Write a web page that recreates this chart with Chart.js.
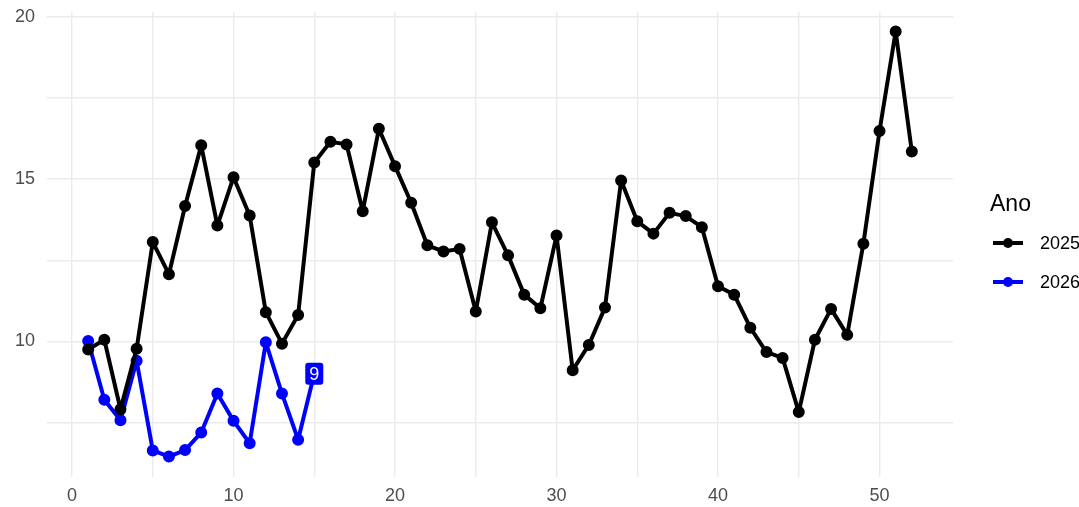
<!DOCTYPE html>
<html>
<head>
<meta charset="utf-8">
<script src="https://cdn.jsdelivr.net/npm/chart.js@4"></script>
<style>
  body { margin: 0; background: #fff; font-family: "Liberation Sans", Arial, sans-serif; }
  #wrap { position: relative; width: 1079px; height: 507px; overflow: hidden; }
  #legend { position: absolute; left: 0; top: 0; color: #000; }
  #legend .title { position: absolute; left: 990px; top: 189px; font-size: 23px; line-height: 28px; white-space: nowrap; }
  #legend .key { position: absolute; left: 993px; width: 30px; height: 4px; margin-top: -2px; }
  #legend .dot { position: absolute; left: 1003px; width: 10px; height: 10px; margin-top: -5px; border-radius: 50%; }
  #legend .lab { position: absolute; left: 1040px; font-size: 18px; line-height: 22px; margin-top: -11px; white-space: nowrap; }
</style>
</head>
<body>
<div id="wrap">
  <canvas id="chart" width="1079" height="507"></canvas>
  <div id="legend">
    <div class="title">Ano</div>
    <div class="key" style="top:243px;background:#000"></div><div class="dot" style="top:243px;background:#000"></div><div class="lab" style="top:243px">2025</div>
    <div class="key" style="top:282px;background:#0000ff"></div><div class="dot" style="top:282px;background:#0000ff"></div><div class="lab" style="top:282px">2026</div>
  </div>
</div>
<script>
var weeks2025 = [];
for (var w = 1; w <= 52; w++) weeks2025.push(w);
var values2025 = [9.75, 10.05, 7.91, 9.77, 13.06, 12.07, 14.17, 16.04, 13.57, 15.06,
                  13.88, 10.9, 9.93, 10.81, 15.51, 16.15, 16.07, 14.01, 16.55, 15.4,
                  14.27, 12.96, 12.77, 12.85, 10.92, 13.67, 12.65, 11.44, 11.02, 13.26,
                  9.11, 9.89, 11.04, 14.96, 13.7, 13.32, 13.96, 13.86, 13.52, 11.7,
                  11.44, 10.42, 9.67, 9.49, 7.82, 10.05, 11.0, 10.2, 13.01, 16.48,
                  19.55, 15.85];
var weeks2026 = [1, 2, 3, 4, 5, 6, 7, 8, 9, 10, 11, 12, 13, 14, 15];
var values2026 = [10.01, 8.2, 7.57, 9.4, 6.64, 6.45, 6.65, 7.19, 8.39, 7.55,
                  6.86, 9.97, 8.39, 6.97, 9.0];
var lastLabel = "9";

var xTicks = [0, 5, 10, 15, 20, 25, 30, 35, 40, 45, 50];
var yTicks = [7.5, 10, 12.5, 15, 17.5, 20];
var xLabels = [0, 10, 20, 30, 40, 50];
var yLabels = [10, 15, 20];

function toPoints(xs, ys) {
    return xs.map(function(x, i) { return { x: x, y: ys[i] }; });
}

// rotulo do ultimo ponto de 2026
var lastLabelPlugin = {
    id: 'lastLabel',
    afterDatasetsDraw: function(chart) {
        var ctx = chart.ctx;
        var xs = chart.scales.x, ys = chart.scales.y;
        var i = values2026.length - 1;
        var px = xs.getPixelForValue(weeks2026[i]);
        var py = ys.getPixelForValue(values2026[i]);
        ctx.save();
        ctx.font = '18px "Liberation Sans", Arial, sans-serif';
        var tw = ctx.measureText(lastLabel).width;
        var w = tw + 8, h = 22;
        ctx.fillStyle = '#0000ff';
        ctx.beginPath();
        ctx.roundRect(px - w / 2, py - h / 2, w, h, 3);
        ctx.fill();
        ctx.fillStyle = '#fff';
        ctx.textAlign = 'center';
        ctx.textBaseline = 'middle';
        ctx.fillText(lastLabel, px, py + 1);
        ctx.restore();
    }
};

var tickFont = { family: '"Liberation Sans", Arial, sans-serif', size: 18 };

new Chart(document.getElementById('chart'), {
    type: 'line',
    data: {
        datasets: [
            {
                label: '2025',
                data: toPoints(weeks2025, values2025),
                borderColor: '#000',
                backgroundColor: '#000',
                borderWidth: 4,
                borderJoinStyle: 'round',
                pointRadius: 4,
                pointHoverRadius: 4,
                tension: 0
            },
            {
                label: '2026',
                data: toPoints(weeks2026, values2026),
                borderColor: '#0000ff',
                backgroundColor: '#0000ff',
                borderWidth: 4,
                borderJoinStyle: 'round',
                pointRadius: 4,
                pointHoverRadius: 4,
                tension: 0
            }
        ]
    },
    options: {
        responsive: false,
        animation: false,
        layout: { padding: { left: 0, right: 126, top: 12, bottom: 0 } },
        plugins: {
            legend: { display: false },
            tooltip: { enabled: false }
        },
        scales: {
            x: {
                type: 'linear',
                min: -1.55,
                max: 54.55,
                afterBuildTicks: function(scale) {
                    scale.ticks = xTicks.map(function(v) { return { value: v }; });
                },
                afterFit: function(scale) {
                    scale.height = 30;
                    scale.paddingLeft = 0;
                    scale.paddingRight = 0;
                },
                border: { display: false },
                grid: { color: '#ebebeb', lineWidth: 1.4, drawTicks: false },
                ticks: {
                    color: '#4d4d4d',
                    font: tickFont,
                    padding: 8,
                    maxRotation: 0,
                    autoSkip: false,
                    callback: function(v) { return xLabels.indexOf(v) >= 0 ? String(v) : ''; }
                }
            },
            y: {
                type: 'linear',
                min: 5.82,
                max: 20.15,
                afterBuildTicks: function(scale) {
                    scale.ticks = yTicks.map(function(v) { return { value: v }; });
                },
                afterFit: function(scale) {
                    scale.width = 47;
                    scale.paddingTop = 0;
                    scale.paddingBottom = 0;
                },
                border: { display: false },
                grid: { color: '#ebebeb', lineWidth: 1.4, drawTicks: false },
                ticks: {
                    color: '#4d4d4d',
                    font: tickFont,
                    padding: 12,
                    autoSkip: false,
                    callback: function(v) { return yLabels.indexOf(v) >= 0 ? String(v) : ''; }
                }
            }
        }
    },
    plugins: [lastLabelPlugin]
});
</script>
</body>
</html>
